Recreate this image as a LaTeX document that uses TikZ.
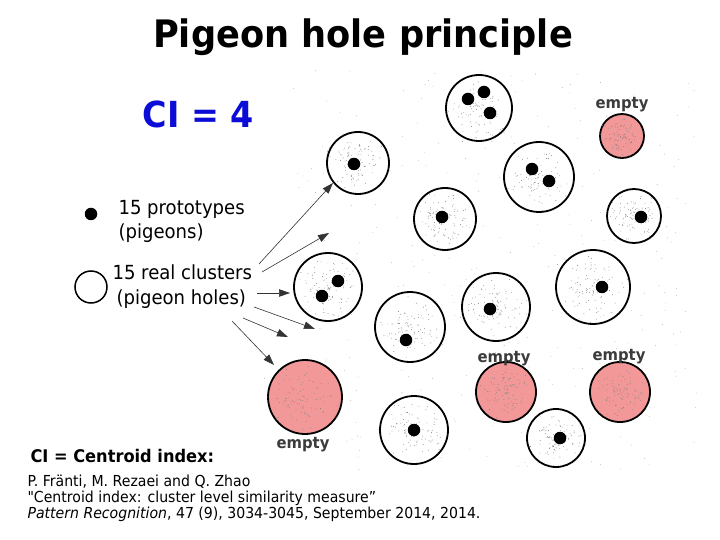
\documentclass[tikz,border=0pt]{standalone}
\usepackage{fontspec}
\setmainfont{DejaVu Sans}[FakeStretch=0.93]
\newfontfamily\rawq{DejaVu Sans}[FakeStretch=0.93,Ligatures=TeXOff]
\usetikzlibrary{arrows.meta}
\definecolor{emptyred}{RGB}{243,152,152}
\definecolor{ciblue}{RGB}{12,12,215}
\definecolor{lblgray}{RGB}{60,60,60}
\begin{document}
\begin{tikzpicture}[x=1bp,y=-1bp,
  hole/.style={circle,draw=black,line width=1.8bp,inner sep=0pt},
  emptyhole/.style={hole,fill=emptyred},
  pigeon/.style={circle,fill=black,inner sep=0pt,minimum size=12.5bp},
  speck/.style={fill=black!50},
  emptylbl/.style={anchor=base,text=lblgray,font=\fontsize{16}{18}\selectfont\bfseries},
  legend/.style={anchor=base west,font=\fontsize{19.5}{22}\selectfont},
  reftext/.style={anchor=base west,font=\fontsize{15.2}{17}\selectfont},
  pointer/.style={draw=black!80,line width=0.6bp,-{Triangle[length=11bp,width=7.5bp]}}]
\useasboundingbox[fill=white] (0,0) rectangle (720,540);

% empty (red) clusters
\node[emptyhole,minimum size=44bp] (R1) at (622,136) {};
\node[emptyhole,minimum size=74bp] (R2) at (305,397) {};
\node[emptyhole,minimum size=60bp] (R3) at (506,392) {};
\node[emptyhole,minimum size=60bp] (R4) at (620,392) {};

% data speckles
\pgfmathsetseed{7}
\foreach \cx/\cy/\r in {479/108/33,539/177/35,445/219/31,634/216/27,593/287/37,
  358/163/31,328/287/34,410/327/35,496/307/34,414/430/34,556/438/29,
  622/136/22,305/397/37,506/392/30,620/392/30}{
  \foreach \k in {1,...,90}{
    \pgfmathsetmacro\ang{360*rnd}
    \pgfmathsetmacro\rad{1.3*\r*(0.45*rnd+0.55*rnd*rnd)}
    \fill[speck] ({\cx+\rad*cos(\ang)},{\cy+\rad*sin(\ang)}) circle (0.45);
  }
}
\foreach \k in {1,...,350}{
  \pgfmathsetmacro\sx{290+410*rnd}
  \pgfmathsetmacro\sy{70+400*rnd}
  \fill[black!35] (\sx,\sy) circle (0.4);
}

% real clusters (pigeon holes)
\node[hole,minimum size=66bp] (A) at (479,108) {};
\node[hole,minimum size=70bp] (B) at (539,177) {};
\node[hole,minimum size=62bp] (C) at (445,219) {};
\node[hole,minimum size=54bp] (D) at (634,216) {};
\node[hole,minimum size=74bp] (E) at (593,287) {};
\node[hole,minimum size=62bp] (F) at (358,163) {};
\node[hole,minimum size=68bp] (G) at (328,287) {};
\node[hole,minimum size=70bp] (H) at (410,327) {};
\node[hole,minimum size=68bp] (I) at (496,307) {};
\node[hole,minimum size=68bp] (M) at (414,430) {};
\node[hole,minimum size=58bp] (N) at (556,438) {};

% prototypes (pigeons)
\node[pigeon] (a1) at (468,99) {};
\node[pigeon] (a2) at (484,92) {};
\node[pigeon] (a3) at (490,113) {};
\node[pigeon] (b1) at (532,169) {};
\node[pigeon] (b2) at (549,181) {};
\node[pigeon] (c1) at (442,217) {};
\node[pigeon] (d1) at (641,217) {};
\node[pigeon] (e1) at (602,287) {};
\node[pigeon] (f1) at (354,164) {};
\node[pigeon] (g1) at (338,281) {};
\node[pigeon] (g2) at (322,296) {};
\node[pigeon] (h1) at (406,340) {};
\node[pigeon] (i1) at (490,309) {};
\node[pigeon] (m1) at (414,430) {};
\node[pigeon] (n1) at (560,438) {};

% labels
\node[anchor=base,font=\fontsize{38}{42}\selectfont\bfseries] (title) at (363,48) {Pigeon hole principle};
\node[anchor=base west,text=ciblue,font=\fontsize{36}{40}\selectfont\bfseries] (ci) at (139,128) {CI = 4};
\node[emptylbl] (e1l) at (622,109) {empty};
\node[emptylbl] (e2l) at (303,448) {empty};
\node[emptylbl] (e3l) at (504,362) {empty};
\node[emptylbl] (e4l) at (619,360) {empty};

% legend
\node[pigeon] (legdot) at (91,214) {};
\node[hole,line width=1.5bp,minimum size=32bp] (leghole) at (91,287) {};
\node[legend] (l1) at (115,215) {15 prototypes};
\node[legend] (l2) at (115,239) {(pigeons)};
\node[legend] (l3) at (109,280) {15 real clusters};
\node[legend] (l4) at (113,304) {(pigeon holes)};

% pointers
\coordinate (s1) at (259,264); \coordinate (t1) at (333,183);
\coordinate (s2) at (262,272); \coordinate (t2) at (329,233);
\coordinate (s3) at (257,293); \coordinate (t3) at (290,293);
\coordinate (s4) at (254,307); \coordinate (t4) at (315,329);
\coordinate (s5) at (243,318); \coordinate (t5) at (288,337);
\coordinate (s6) at (232,321); \coordinate (t6) at (274,365);
\foreach \i in {1,...,6}{\draw[pointer] (s\i) -- (t\i);}

% bottom text
\node[anchor=base west,font=\fontsize{17.5}{20}\selectfont\bfseries] (cidef) at (27,462) {CI = Centroid index:};
\node[reftext] (r1) at (24,486) {P. Fränti, M. Rezaei and Q. Zhao};
\node[reftext] (r2) at (24,502) {{\rawq "}Centroid index: cluster level similarity measure”};
\node[reftext] (r3) at (24,518) {\textit{Pattern Recognition}, 47 (9), 3034-3045, September 2014, 2014.};
\end{tikzpicture}
\end{document}
